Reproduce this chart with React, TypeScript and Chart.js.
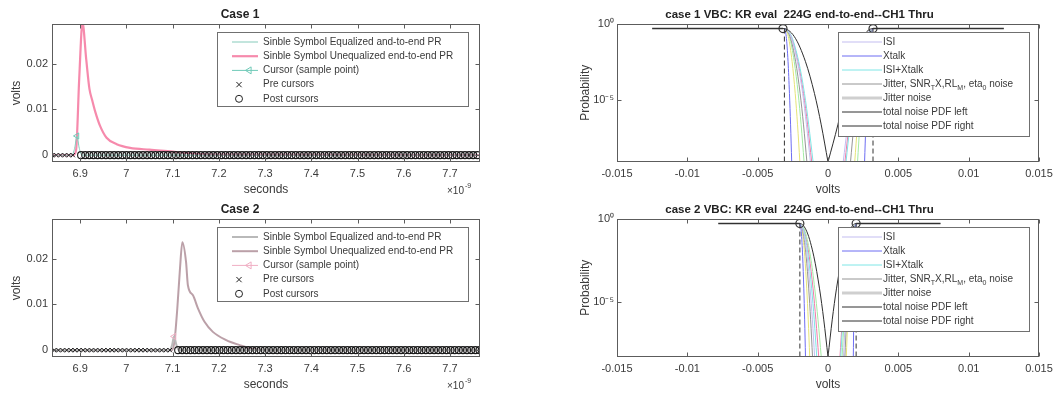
import React, { useEffect, useRef } from "react";
import { Chart, registerables } from "chart.js";
Chart.register(...registerables);

const FONT = "'Liberation Sans', Arial, Helvetica, sans-serif";
const TXT = "#3a3a3a";

// ---------------- Left panels: single-symbol pulse responses ----------------
// time in ns (axis shows x10^-9 seconds)
const timeTicks = [6.9, 7.0, 7.1, 7.2, 7.3, 7.4, 7.5, 7.6, 7.7];
const voltTicks = [0, 0.01, 0.02];
const UI = 0.00893; // symbol period, ns

const c1UneqT = [6.839, 6.885, 6.891, 6.898, 6.905, 6.913, 6.92, 6.926, 6.932, 6.943, 6.957, 6.979, 7.008, 7.05, 7.1, 7.15, 7.2, 7.765];
const c1UneqV = [0, 0, 0.001, 0.017, 0.029, 0.021, 0.0145, 0.012, 0.0097, 0.0064, 0.0038, 0.0024, 0.0016, 0.0012, 0.0008, 0.0003, 0.0001, 0];
const c1EqT = [6.839, 6.882, 6.888, 6.893, 6.898, 6.904, 7.765];
const c1EqV = [0, 0, 0.0015, 0.0042, 0.0015, 0, 0];
const c1CursorT = 6.893;
const c1CursorV = 0.0042;
const c1PreV = [0, 0, 0, 0, 0, 0];
const c1PostV = [
  0, 0, 0, 0, 0, 0, 0, 0, 0, 0,
  0, 0, 0, 0, 0, 0, 0, 0, 0, 0,
  0, 0, 0, 0, 0, 0, 0, 0, 0, 0,
  0, 0, 0, 0, 0, 0, 0, 0, 0, 0,
  0, 0, 0, 0, 0, 0, 0, 0, 0, 0,
  0, 0, 0, 0, 0, 0, 0, 0, 0, 0,
  0, 0, 0, 0, 0, 0, 0, 0, 0, 0,
  0, 0, 0, 0, 0, 0, 0, 0, 0, 0,
  0, 0, 0, 0, 0, 0, 0, 0, 0, 0,
  0, 0, 0, 0, 0, 0, 0,
];

const c2UneqT = [6.839, 7.098, 7.104, 7.11, 7.116, 7.121, 7.129, 7.133, 7.144, 7.155, 7.169, 7.187, 7.216, 7.245, 7.267, 7.3, 7.765];
const c2UneqV = [0, 0, 0.002, 0.009, 0.018, 0.0236, 0.0193, 0.0142, 0.012, 0.0091, 0.0062, 0.004, 0.0022, 0.0011, 0.0004, 0, 0];
const c2EqT = [6.839, 7.094, 7.099, 7.103, 7.108, 7.113, 7.765];
const c2EqV = [0, 0, 0.0012, 0.003, 0.0012, 0, 0];
const c2CursorT = 7.103;
const c2CursorV = 0.003;
const c2PreV = [
  0, 0, 0, 0, 0, 0, 0, 0, 0, 0,
  0, 0, 0, 0, 0, 0, 0, 0, 0, 0,
  0, 0, 0, 0, 0, 0, 0, 0, 0,
];
const c2PostV = [
  0, 0, 0, 0, 0, 0, 0, 0, 0, 0,
  0, 0, 0, 0, 0, 0, 0, 0, 0, 0,
  0, 0, 0, 0, 0, 0, 0, 0, 0, 0,
  0, 0, 0, 0, 0, 0, 0, 0, 0, 0,
  0, 0, 0, 0, 0, 0, 0, 0, 0, 0,
  0, 0, 0, 0, 0, 0, 0, 0, 0, 0,
  0, 0, 0, 0, 0, 0, 0, 0, 0, 0,
  0, 0, 0, 0,
];

// ---------------- Right panels: noise probability (log) ----------------
const noiseVoltTicks = [-0.015, -0.01, -0.005, 0, 0.005, 0.01, 0.015];
const probTicks = [1, 1e-5];
const c1ProbMin = 1e-9;
const c2ProbMin = 4.9e-9;
// probability levels at which the curve positions were read
const c1P = [0.5, 0.144, 0.0033, 2.8e-5, 2.6e-7, 1e-9];
const c2P = [0.5, 0.16, 0.005, 6e-5, 8.3e-7, 5e-9];

const c1IsiLX = [-0.0031, -0.00264, -0.00218, -0.0018, -0.00153, -0.00125];
const c1IsiRX = [0.0032, 0.00267, 0.00214, 0.00172, 0.0014, 0.00108];
const c1XtalkLX = [-0.0031, -0.00297, -0.00284, -0.00274, -0.00266, -0.00258];
const c1XtalkRX = [0.0032, 0.00305, 0.0029, 0.00278, 0.00269, 0.0026];
const c1IsiXtLX = [-0.0031, -0.00259, -0.00208, -0.00167, -0.00137, -0.00106];
const c1IsiXtRX = [0.0032, 0.00272, 0.00224, 0.00186, 0.00157, 0.00128];
const c1JitLX = [-0.0031, -0.0027, -0.0023, -0.00198, -0.00174, -0.0015];
const c1JitRX = [0.0032, 0.0028, 0.0024, 0.00208, 0.00184, 0.0016];
const c1YelLX = [-0.0031, -0.002825, -0.00255, -0.00233, -0.002165, -0.002];
const c1YelRX = [0.0032, 0.002875, 0.00255, 0.00229, 0.002095, 0.0019];
const c1GrnLX = [-0.0031, -0.00275, -0.0024, -0.00212, -0.00191, -0.0017];
const c1GrnRX = [0.0032, 0.002925, 0.00265, 0.00243, 0.002265, 0.0021];
const c1PnkLX = [-0.0031, -0.00262, -0.00213, -0.00174, -0.00145, -0.00116];
const c1PnkRX = [0.0032, 0.0027, 0.0022, 0.0018, 0.0015, 0.0012];
const c1JitNoiseLX = [-0.0125, -0.0032];
const c1JitNoiseRX = [0.0032, 0.0125];
const c1JitNoiseP = [0.47, 0.47];
const c1TotLX = [-0.0125, -0.0032, -0.0024, -0.0016, -0.00096, -0.00048, 0];
const c1TotLP = [0.47, 0.47, 0.144, 0.0033, 2.8e-5, 2.6e-7, 1e-9];
const c1TotRX = [0, 0.0007, 0.0012, 0.0018, 0.0025, 0.0032, 0.0125];
const c1TotRP = [1e-9, 2.6e-7, 2.8e-5, 0.0033, 0.144, 0.47, 0.47];
const c1EyeX = [-0.0031, 0.0032];
const c1EyeP = 0.47;
const c1MarkX = [-0.0032, 0.0032];

const c2IsiLX = [-0.002, -0.00174, -0.00148, -0.00127, -0.00111, -0.00095];
const c2IsiRX = [0.002, 0.001775, 0.00155, 0.00137, 0.001235, 0.0011];
const c2XtalkLX = [-0.002, -0.0019, -0.0018, -0.00172, -0.00166, -0.0016];
const c2XtalkRX = [0.002, 0.00195, 0.0019, 0.00186, 0.00183, 0.0018];
const c2IsiXtLX = [-0.002, -0.0017, -0.0014, -0.00116, -0.00098, -0.0008];
const c2IsiXtRX = [0.002, 0.001725, 0.00145, 0.00123, 0.001065, 0.0009];
const c2JitLX = [-0.002, -0.001775, -0.00155, -0.00137, -0.001235, -0.0011];
const c2JitRX = [0.002, 0.0018, 0.0016, 0.00144, 0.00132, 0.0012];
const c2YelLX = [-0.002, -0.001825, -0.00165, -0.00151, -0.001405, -0.0013];
const c2YelRX = [0.002, 0.001825, 0.00165, 0.00151, 0.001405, 0.0013];
const c2GrnLX = [-0.002, -0.00162, -0.00124, -0.00094, -0.00071, -0.00048];
const c2GrnRX = [0.002, 0.00175, 0.0015, 0.0013, 0.00115, 0.001];
const c2PnkLX = [-0.002, -0.001665, -0.00133, -0.00106, -0.00086, -0.00066];
const c2PnkRX = [0.002, 0.00171, 0.00143, 0.0012, 0.00102, 0.00085];
const c2JitNoiseLX = [-0.0078, -0.002];
const c2JitNoiseRX = [0.002, 0.008];
const c2JitNoiseP = [0.5, 0.5];
const c2TotLX = [-0.0078, -0.002, -0.0015, -0.001, -0.0006, -0.0003, 0];
const c2TotLP = [0.5, 0.5, 0.16, 0.005, 6e-5, 8.3e-7, 5e-9];
const c2TotRX = [0, 0.0003, 0.0006, 0.001, 0.0015, 0.002, 0.008];
const c2TotRP = [5e-9, 8.3e-7, 6e-5, 0.005, 0.16, 0.5, 0.5];
const c2EyeX = [-0.002, 0.002];
const c2EyeP = 0.5;
const c2MarkX = [-0.002, 0.002];

// ---------------- helpers ----------------
type Pt = { x: number; y: number | null };
const zip = (xs: number[], ys: number[]): Pt[] => xs.map((x, i) => ({ x, y: ys[i] }));
const gap: Pt = { x: 0, y: null };
const twoSided = (lx: number[], rx: number[], lp: number[], rp: number[]): Pt[] => [...zip(lx, lp), gap, ...zip(rx, rp)];

const SUP: Record<string, string> = { "-": "\u207B", "0": "\u2070", "1": "\u00B9", "2": "\u00B2", "3": "\u00B3", "4": "\u2074", "5": "\u2075", "6": "\u2076", "7": "\u2077", "8": "\u2078", "9": "\u2079" };
const sup = (s: string) => s.split("").map((c) => SUP[c] || c).join("");

function drawRich(ctx: CanvasRenderingContext2D, text: string, x: number, y: number, size: number) {
  ctx.textBaseline = "middle";
  ctx.textAlign = "left";
  ctx.fillStyle = TXT;
  let cx = x;
  let run = "";
  const flush = () => {
    if (!run) return;
    ctx.font = `${size}px ${FONT}`;
    ctx.fillText(run, cx, y);
    cx += ctx.measureText(run).width;
    run = "";
  };
  for (let i = 0; i < text.length; i++) {
    const ch = text[i];
    if (ch === "_" && i + 1 < text.length) {
      flush();
      const s = text[++i];
      ctx.font = `${Math.round(size * 0.72)}px ${FONT}`;
      ctx.fillText(s, cx, y + size * 0.38);
      cx += ctx.measureText(s).width;
    } else run += ch;
  }
  flush();
}

function drawMarker(ctx: CanvasRenderingContext2D, kind: string, x: number, y: number, r: number, color: string) {
  ctx.strokeStyle = color;
  ctx.lineWidth = 1;
  ctx.setLineDash([]);
  ctx.beginPath();
  if (kind === "cross") {
    ctx.moveTo(x - r * 0.75, y - r * 0.75); ctx.lineTo(x + r * 0.75, y + r * 0.75);
    ctx.moveTo(x + r * 0.75, y - r * 0.75); ctx.lineTo(x - r * 0.75, y + r * 0.75);
  } else if (kind === "circle") {
    ctx.arc(x, y, r, 0, Math.PI * 2);
  } else if (kind === "tri") {
    ctx.moveTo(x - r, y); ctx.lineTo(x + r * 0.6, y - r); ctx.lineTo(x + r * 0.6, y + r); ctx.closePath();
  }
  ctx.stroke();
}

const matlabPlugin = {
  id: "matlab",
  afterDatasetsDraw(chart: any, _args: any, opts: any) {
    const { ctx, chartArea: a } = chart;
    ctx.save();
    const L = opts.legend;
    if (L) {
      ctx.fillStyle = "#ffffff";
      ctx.fillRect(L.x, L.y, L.w, L.h);
      ctx.strokeStyle = "#707070";
      ctx.lineWidth = 1;
      ctx.strokeRect(L.x + 0.5, L.y + 0.5, L.w, L.h);
      const items = chart.data.datasets.filter((d: any) => d.legendKind);
      items.forEach((d: any, i: number) => {
        const cy = L.y + L.row0 + i * L.rowH;
        const k = d.legendKind;
        if (k === "line" || k === "lineTri") {
          ctx.strokeStyle = d.borderColor;
          ctx.lineWidth = d.borderWidth;
          ctx.setLineDash([]);
          ctx.beginPath();
          ctx.moveTo(L.x0, cy);
          ctx.lineTo(L.x1, cy);
          ctx.stroke();
        }
        const mx = (L.x0 + L.x1) / 2;
        if (k === "lineTri") drawMarker(ctx, "tri", mx + 4, cy, 3.5, d.borderColor);
        if (k === "cross") drawMarker(ctx, "cross", mx - 6, cy, 3.5, "#222");
        if (k === "circle") drawMarker(ctx, "circle", mx - 6, cy, 3.5, "#222");
        drawRich(ctx, d.label, L.tx, cy, L.size);
      });
    }
    // axes box
    const l = Math.round(a.left) + 0.5, t = Math.round(a.top) + 0.5;
    const r = Math.round(a.right) - 0.5, b = Math.round(a.bottom) - 0.5;
    ctx.strokeStyle = "#5c5c5c";
    ctx.lineWidth = 1;
    ctx.setLineDash([]);
    ctx.strokeRect(l, t, r - l, b - t);
    // inner ticks on all four sides
    const xs = chart.scales.x, ys = chart.scales.y;
    ctx.beginPath();
    xs.ticks.forEach((tk: any) => {
      const px = Math.round(xs.getPixelForValue(tk.value)) + 0.5;
      ctx.moveTo(px, b); ctx.lineTo(px, b - 4);
      ctx.moveTo(px, t); ctx.lineTo(px, t + 4);
    });
    ys.ticks.forEach((tk: any) => {
      const py = Math.round(ys.getPixelForValue(tk.value)) + 0.5;
      ctx.moveTo(l, py); ctx.lineTo(l + 4, py);
      ctx.moveTo(r, py); ctx.lineTo(r - 4, py);
    });
    ctx.stroke();
    // x10^-9 exponent label
    const E = opts.exponent;
    if (E) {
      ctx.fillStyle = TXT;
      ctx.textBaseline = "middle";
      ctx.textAlign = "left";
      ctx.font = `10px ${FONT}`;
      ctx.fillText("\u00D710", E.x, E.y);
      const w = ctx.measureText("\u00D710").width;
      ctx.font = `7px ${FONT}`;
      ctx.fillText(E.text, E.x + w + 1, E.y - 5);
    }
    ctx.restore();
  },
};

const tickFont = { family: FONT, size: 11 };
const titleFont = { family: FONT, size: 12 };

function axisBase(min: number, max: number, ticks: number[], fit: (s: any) => void, fmt: (v: number) => string, title: string, titlePad: any, tickPad: number) {
  return {
    min,
    max,
    afterBuildTicks: (s: any) => { s.ticks = ticks.map((v) => ({ value: v })); },
    afterFit: fit,
    grid: { display: false, drawTicks: false },
    border: { display: false },
    ticks: { font: tickFont, color: TXT, padding: tickPad, maxRotation: 0, autoSkip: false, callback: (v: any) => fmt(Number(v)) },
    title: { display: true, text: title, font: titleFont, color: TXT, padding: titlePad },
  };
}

interface LeftCase {
  title: string; uneqT: number[]; uneqV: number[]; eqT: number[]; eqV: number[];
  cursorT: number; cursorV: number; preV: number[]; postV: number[];
  eqColor: string; eqWidth: number; uneqColor: string; uneqWidth: number; cursorColor: string;
}

function makeLeft(canvas: HTMLCanvasElement, c: LeftCase) {
  const pre = c.preV.map((v, i) => ({ x: c.cursorT - (c.preV.length - i) * UI, y: v }));
  const post = c.postV.map((v, i) => ({ x: c.cursorT + (i + 1) * UI, y: v }));
  return new Chart(canvas, {
    type: "scatter",
    data: {
      datasets: [
        { label: "Sinble Symbol Equalized and-to-end PR", data: zip(c.eqT, c.eqV), showLine: true, cubicInterpolationMode: "monotone", borderColor: c.eqColor, borderWidth: c.eqWidth, pointRadius: 0, legendKind: "line", order: 3 } as any,
        { label: "Sinble Symbol Unequalized end-to-end PR", data: zip(c.uneqT, c.uneqV), showLine: true, cubicInterpolationMode: "monotone", borderColor: c.uneqColor, borderWidth: c.uneqWidth, pointRadius: 0, legendKind: "line", order: 4 },
        { label: "Cursor (sample point)", data: [{ x: c.cursorT, y: c.cursorV }], pointStyle: "triangle", rotation: -90, pointRadius: 3.5, borderColor: c.cursorColor, backgroundColor: "rgba(0,0,0,0)", borderWidth: 1, legendKind: "lineTri", order: 0 },
        { label: "Pre cursors", data: pre, pointStyle: "crossRot", pointRadius: 3, borderColor: "#1a1a1a", borderWidth: 1, legendKind: "cross", order: 1 },
        { label: "Post cursors", data: post, pointStyle: "circle", pointRadius: 3.5, borderColor: "#1a1a1a", backgroundColor: "rgba(0,0,0,0)", borderWidth: 1.1, legendKind: "circle", order: 1 },
      ],
    },
    options: {
      animation: false,
      responsive: false,
      events: [],
      layout: { padding: { left: 0, right: 20, top: 0, bottom: 0 } },
      plugins: {
        legend: { display: false },
        tooltip: { enabled: false },
        title: { display: true, text: c.title, font: { family: FONT, size: 12, weight: "bold", lineHeight: 1 }, color: "#222", padding: { top: 9, bottom: 3 } },
        matlab: {
          legend: { x: 217, y: 32, w: 251, h: 74, row0: 10, rowH: 14.2, x0: 232, x1: 258, tx: 263, size: 10 },
          exponent: { x: 447, y: 191, text: "-9" },
        },
      } as any,
      scales: {
        x: { type: "linear", ...axisBase(6.839, 7.765, timeTicks, (s: any) => { s.height = 36; }, (v) => String(+v.toFixed(2)), "seconds", { top: 0, bottom: 1 }, 5) },
        y: { type: "linear", ...axisBase(-0.0015, 0.0287, voltTicks, (s: any) => { s.width = 52; }, (v) => String(+v.toFixed(3)), "volts", { top: 9, bottom: 0 }, 4) },
      } as any,
    },
    plugins: [matlabPlugin],
  } as any);
}

interface Curve { label?: string; lx: number[]; rx: number[]; lp: number[]; rp: number[]; color: string; width: number; order: number }
interface RightCase { title: string; pMin: number; curves: Curve[]; eyeX: number[]; eyeP: number; markX: number[] }

function makeRight(canvas: HTMLCanvasElement, c: RightCase) {
  const ds: any[] = c.curves.map((cv) => ({
    label: cv.label || "",
    data: twoSided(cv.lx, cv.rx, cv.lp, cv.rp),
    showLine: true,
    cubicInterpolationMode: "monotone",
    borderColor: cv.color,
    borderWidth: cv.width,
    pointRadius: 0,
    legendKind: cv.label ? "line" : undefined,
    order: cv.order,
  }));
  ds.push({
    label: "",
    data: [{ x: c.eyeX[0], y: c.eyeP }, { x: c.eyeX[0], y: c.pMin }, gap, { x: c.eyeX[1], y: c.eyeP }, { x: c.eyeX[1], y: c.pMin }],
    showLine: true, borderColor: "#333", borderWidth: 1, borderDash: [5, 3], pointRadius: 0, order: 0,
  });
  ds.push({
    label: "",
    data: c.markX.map((x) => ({ x, y: c.eyeP })),
    pointStyle: "circle", pointRadius: 4, borderColor: "#333", backgroundColor: "rgba(0,0,0,0)", borderWidth: 1.2, order: 0,
  });
  return new Chart(canvas, {
    type: "scatter",
    data: { datasets: ds },
    options: {
      animation: false,
      responsive: false,
      events: [],
      layout: { padding: { left: 0, right: 19, top: 0, bottom: 0 } },
      plugins: {
        legend: { display: false },
        tooltip: { enabled: false },
        title: { display: true, text: c.title, font: { family: FONT, size: 11.5, weight: "bold", lineHeight: 1 }, color: "#222", padding: { top: 9, bottom: 3 } },
        matlab: {
          legend: { x: 278, y: 32, w: 191, h: 104, row0: 10, rowH: 14, x0: 282, x1: 322, tx: 323, size: 10 },
        },
      } as any,
      scales: {
        x: { type: "linear", ...axisBase(-0.015, 0.015, noiseVoltTicks, (s: any) => { s.height = 36; }, (v) => String(+v.toFixed(3)), "volts", { top: 0, bottom: 1 }, 5) },
        y: { type: "logarithmic", ...axisBase(c.pMin, 1, probTicks, (s: any) => { s.width = 57; }, (v) => "10" + sup(String(Math.round(Math.log10(v)))), "Probability", { top: 18, bottom: 0 }, 3) },
      } as any,
    },
    plugins: [matlabPlugin],
  } as any);
}

const LAV = "#c3bdf0", BLUE = "#6d6df2", CYAN = "#7fe6e6", JIT = "#7a7a7a", JITN = "#cfcfcf", TOT = "#2e2e2e";
const YEL = "#e6e478", GRN = "#a3eba3", PNK = "#f27aa8";

function rightCurves(
  P: number[],
  a: {
    isi: number[][]; xt: number[][]; ix: number[][]; jit: number[][]; yel: number[][]; grn: number[][]; pnk: number[][];
    jn: number[][]; jnP: number[]; totL: number[][]; totR: number[][];
  }
): Curve[] {
  return [
    { label: "ISI", lx: a.isi[0], rx: a.isi[1], lp: P, rp: P, color: LAV, width: 1, order: 5 },
    { label: "Xtalk", lx: a.xt[0], rx: a.xt[1], lp: P, rp: P, color: BLUE, width: 1, order: 4 },
    { label: "ISI+Xtalk", lx: a.ix[0], rx: a.ix[1], lp: P, rp: P, color: CYAN, width: 1, order: 5 },
    { label: "Jitter, SNR_TX,RL_M, eta_0 noise", lx: a.jit[0], rx: a.jit[1], lp: P, rp: P, color: JIT, width: 0.8, order: 5 },
    { label: "Jitter noise", lx: a.jn[0], rx: a.jn[1], lp: a.jnP, rp: a.jnP, color: JITN, width: 3, order: 9 },
    { label: "total noise PDF left", lx: a.totL[0], rx: [], lp: a.totL[1], rp: [], color: TOT, width: 1, order: 1 },
    { label: "total noise PDF right", lx: [], rx: a.totR[0], lp: [], rp: a.totR[1], color: TOT, width: 1, order: 1 },
    { lx: a.yel[0], rx: a.yel[1], lp: P, rp: P, color: YEL, width: 1, order: 6 },
    { lx: a.grn[0], rx: a.grn[1], lp: P, rp: P, color: GRN, width: 1, order: 6 },
    { lx: a.pnk[0], rx: a.pnk[1], lp: P, rp: P, color: PNK, width: 1, order: 6 },
  ];
}

const leftCase1: LeftCase = {
  title: "Case 1", uneqT: c1UneqT, uneqV: c1UneqV, eqT: c1EqT, eqV: c1EqV, cursorT: c1CursorT, cursorV: c1CursorV,
  preV: c1PreV, postV: c1PostV, eqColor: "#86cbbb", eqWidth: 1, uneqColor: "rgba(244,118,158,0.85)", uneqWidth: 2.2, cursorColor: "#6fcab8",
};
const leftCase2: LeftCase = {
  title: "Case 2", uneqT: c2UneqT, uneqV: c2UneqV, eqT: c2EqT, eqV: c2EqV, cursorT: c2CursorT, cursorV: c2CursorV,
  preV: c2PreV, postV: c2PostV, eqColor: "#b9b9b9", eqWidth: 2, uneqColor: "rgba(180,150,158,0.9)", uneqWidth: 2, cursorColor: "#f0aec3",
};
const rightCase1: RightCase = {
  title: "case 1 VBC: KR eval  224G end-to-end--CH1 Thru",
  pMin: c1ProbMin,
  curves: rightCurves(c1P, {
    isi: [c1IsiLX, c1IsiRX], xt: [c1XtalkLX, c1XtalkRX], ix: [c1IsiXtLX, c1IsiXtRX], jit: [c1JitLX, c1JitRX],
    yel: [c1YelLX, c1YelRX], grn: [c1GrnLX, c1GrnRX], pnk: [c1PnkLX, c1PnkRX],
    jn: [c1JitNoiseLX, c1JitNoiseRX], jnP: c1JitNoiseP, totL: [c1TotLX, c1TotLP], totR: [c1TotRX, c1TotRP],
  }),
  eyeX: c1EyeX, eyeP: c1EyeP, markX: c1MarkX,
};
const rightCase2: RightCase = {
  title: "case 2 VBC: KR eval  224G end-to-end--CH1 Thru",
  pMin: c2ProbMin,
  curves: rightCurves(c2P, {
    isi: [c2IsiLX, c2IsiRX], xt: [c2XtalkLX, c2XtalkRX], ix: [c2IsiXtLX, c2IsiXtRX], jit: [c2JitLX, c2JitRX],
    yel: [c2YelLX, c2YelRX], grn: [c2GrnLX, c2GrnRX], pnk: [c2PnkLX, c2PnkRX],
    jn: [c2JitNoiseLX, c2JitNoiseRX], jnP: c2JitNoiseP, totL: [c2TotLX, c2TotLP], totR: [c2TotRX, c2TotRP],
  }),
  eyeX: c2EyeX, eyeP: c2EyeP, markX: c2MarkX,
};

function Panel(props: { left: number; top: number; width: number; height: number; make: (c: HTMLCanvasElement) => Chart }) {
  const ref = useRef<HTMLCanvasElement>(null);
  useEffect(() => {
    const ch = props.make(ref.current as HTMLCanvasElement);
    return () => ch.destroy();
  }, []);
  return (
    <canvas
      ref={ref}
      width={props.width}
      height={props.height}
      style={{ position: "absolute", left: props.left, top: props.top, width: props.width, height: props.height, display: "block" }}
    />
  );
}

export default function App() {
  return (
    <div style={{ position: "absolute", left: 0, top: 0, width: 1058, height: 395, background: "#ffffff", overflow: "hidden" }}>
      <Panel left={0} top={0} width={500} height={198} make={(c) => makeLeft(c, leftCase1)} />
      <Panel left={0} top={195} width={500} height={198} make={(c) => makeLeft(c, leftCase2)} />
      <Panel left={560} top={0} width={498} height={198} make={(c) => makeRight(c, rightCase1)} />
      <Panel left={560} top={195} width={498} height={198} make={(c) => makeRight(c, rightCase2)} />
    </div>
  );
}
